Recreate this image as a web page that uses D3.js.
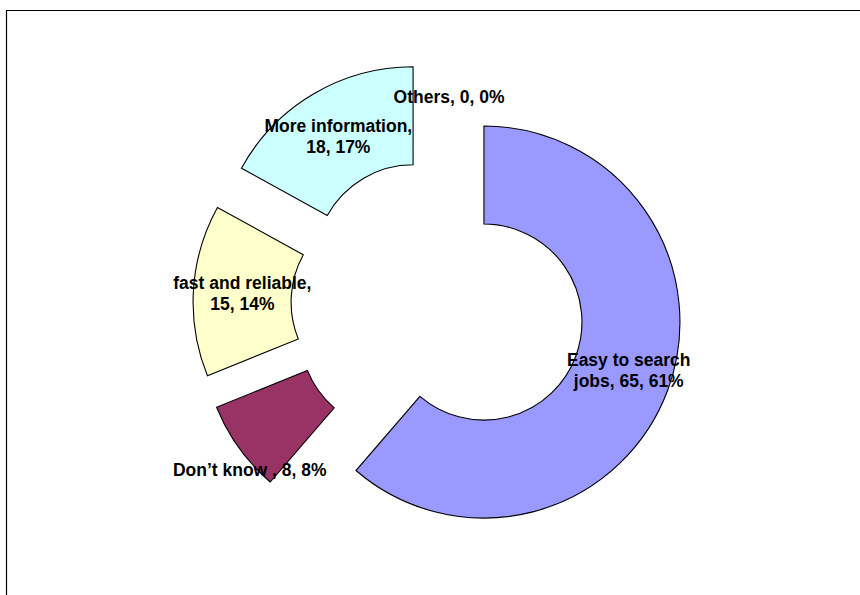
<!DOCTYPE html>
<html>
<head>
<meta charset="utf-8">
<script src="https://cdn.jsdelivr.net/npm/d3@7"></script>
<style>
  html, body { margin: 0; padding: 0; background: #fff; }
  svg { display: block; }
  .lbl { font-family: "Liberation Sans", Arial, sans-serif; font-weight: bold; font-size: 17.5px; fill: #000; }
</style>
</head>
<body>
<svg id="chart" width="860" height="595"></svg>
<script>
// Survey answers: why the site is preferred
const categories = ["Easy to search jobs", "Don\u2019t know ", "fast and reliable", "More information", "Others"];
const values = [65, 8, 15, 18, 0];
const colors = ["#9999FF", "#993366", "#FFFFCC", "#CCFFFF", "#FFFFFF"];

const W = 860, H = 595;
const cx = 438, cy = 305;          // ring centre
const outerR = 196, innerR = 98;   // doughnut hole is half the radius
const explode = 49;                // every slice is pulled out from the centre

// small label nudges where the default centroid position collides
const labelNudge = { 0: [7, -3], 1: [-29, 50], 4: [11, -12] };

const svg = d3.select("#chart");

// plot-area frame
svg.append("path")
  .attr("d", `M6.5,${H} V10.5 H${W}`)
  .attr("fill", "none")
  .attr("stroke", "#000")
  .attr("stroke-width", 1.2);

const total = d3.sum(values);
const data = categories.map((c, i) => ({ name: c, value: values[i], color: colors[i], idx: i }));

const pie = d3.pie().value(d => d.value).sort(null).startAngle(0).endAngle(2 * Math.PI);
const arcs = pie(data);

const arc = d3.arc().innerRadius(innerR).outerRadius(outerR);

const g = svg.append("g").attr("transform", `translate(${cx},${cy})`);

function offsetOf(a) {
  const mid = (a.startAngle + a.endAngle) / 2;
  return [Math.sin(mid) * explode, -Math.cos(mid) * explode];
}

g.selectAll("path.slice")
  .data(arcs.filter(a => a.data.value > 0))
  .join("path")
  .attr("class", "slice")
  .attr("transform", a => { const o = offsetOf(a); return `translate(${o[0]},${o[1]})`; })
  .attr("d", arc)
  .attr("fill", a => a.data.color)
  .attr("stroke", "#000")
  .attr("stroke-width", 1.1)
  .attr("stroke-linejoin", "miter");

// data labels: "name, value, percent"
const midR = (innerR + outerR) / 2;
const lineH = 21;
const maxW = 165;

arcs.forEach(a => {
  const mid = (a.startAngle + a.endAngle) / 2;
  const o = offsetOf(a);
  const n = labelNudge[a.data.idx] || [0, 0];
  const lx = o[0] + Math.sin(mid) * midR + n[0];
  const ly = o[1] - Math.cos(mid) * midR + n[1];
  const pct = Math.round(a.data.value / total * 100);
  const full = `${a.data.name}, ${a.data.value}, ${pct}%`;

  const t = g.append("text").attr("class", "lbl").attr("text-anchor", "middle");
  // greedy word wrap
  const words = full.split(" ");
  const lines = [];
  let cur = "";
  const probe = t.append("tspan");
  words.forEach(w => {
    const test = cur ? cur + " " + w : w;
    probe.text(test);
    if (cur && probe.node().getComputedTextLength() > maxW) {
      lines.push(cur);
      cur = w;
    } else {
      cur = test;
    }
  });
  lines.push(cur);
  probe.remove();

  const capH = 12.5;
  const blockH = (lines.length - 1) * lineH + capH;
  const firstBase = ly - blockH / 2 + capH;
  lines.forEach((s, k) => {
    t.append("tspan").attr("x", lx).attr("y", firstBase + k * lineH).text(s);
  });
});
</script>
</body>
</html>
